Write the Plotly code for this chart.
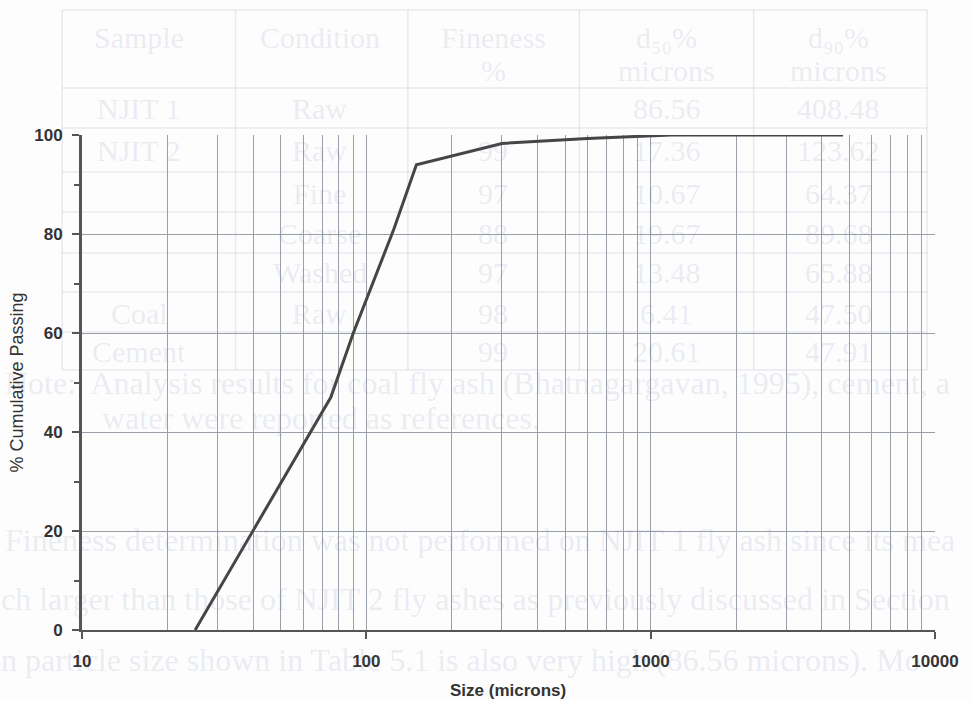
import plotly.graph_objects as go

# ---- data ----
size_microns = [25, 75, 90, 125, 150, 300, 600, 1180, 2360, 4750]
cum_passing = [0, 47, 60, 81, 94, 98.3, 99.3, 100, 100, 100]

y_ticks = [0, 20, 40, 60, 80, 100]
y_minor = [10, 30, 50, 70, 90]
x_ticks = [10, 100, 1000, 10000]
x_ticklabels = ["10", "100", "1000", "10000"]
x_minor = [m * d for d in (10, 100, 1000) for m in range(2, 10)]

# faint page bleed-through (table + paragraph text)
table_header = ["Sample", "Condition", "Fineness", "d\u2085\u2080%", "d\u2089\u2080%"]
table_header2 = ["", "", "%", "microns", "microns"]
table_rows = [
    ["NJIT 1", "Raw", "", "86.56", "408.48"],
    ["NJIT 2", "Raw", "99", "17.36", "123.62"],
    ["", "Fine", "97", "10.67", "64.37"],
    ["", "Coarse", "88", "19.67", "89.68"],
    ["", "Washed", "97", "13.48", "65.88"],
    ["Coal", "Raw", "98", "6.41", "47.50"],
    ["Cement", "", "99", "20.61", "47.91"],
]
paragraph = [
    ("Note:  Analysis results for coal fly ash (Bhatnagargavan, 1995), cement, a", 2, 383),
    ("water were reported as references.", 100, 418),
    ("Fineness determination was not performed on NJIT 1 fly ash since its mea", 2, 540),
    ("ch larger than those of NJIT 2 fly ashes as previously discussed in Section", -2, 599),
    ("n particle size shown in Table 5.1 is also very high (86.56 microns). Mo", -2, 660),
]

# screen geometry
OFF = 8                      # default body margin of the page
W, H = 971, 701
PL, PR, PT, PB = 82, 943, 135, 630  # plot area in screen pixels
PW, PH = PR - PL, PB - PT


def px(xp):
    return (xp - PL) / PW


def py(yp):
    return (PB - yp) / PH


faint = "rgba(110,120,155,0.14)"
faint_line = "rgba(110,120,155,0.14)"
serif = "Liberation Serif, Times New Roman, serif"

fig = go.Figure()
fig.add_trace(go.Scatter(
    x=size_microns, y=cum_passing, mode="lines",
    line=dict(color="#454545", width=3), hoverinfo="x+y", showlegend=False,
))

annotations = []
shapes = []


def faint_text(t, x, y, size, xanchor="center"):
    annotations.append(dict(text=t, x=px(x), y=py(y), xref="paper", yref="paper",
                            xanchor=xanchor, yanchor="middle", showarrow=False,
                            font=dict(family=serif, size=size, color=faint)))


col_x = [140, 322, 497, 672, 846]
row_y_header = [37, 70]
row_y = [108, 150, 193, 234, 272, 313, 351]
for i, t in enumerate(table_header):
    faint_text(t, col_x[i], row_y_header[0], 30)
for i, t in enumerate(table_header2):
    if t:
        faint_text(t, col_x[i], row_y_header[1], 30)
for r, row in enumerate(table_rows):
    for i, t in enumerate(row):
        if t:
            faint_text(t, col_x[i], row_y[r], 30)
for txt, xs, ys in paragraph:
    faint_text(txt, xs, ys, 32, xanchor="left")

# table rules
for yy in [10, 88, 128, 172, 212, 253, 292, 332, 370]:
    shapes.append(dict(type="line", xref="paper", yref="paper", x0=px(62), x1=px(935), y0=py(yy), y1=py(yy),
                       line=dict(color=faint_line, width=1.5), layer="below"))
for xx in [62, 237, 411, 584, 760, 935]:
    shapes.append(dict(type="line", xref="paper", yref="paper", x0=px(xx), x1=px(xx), y0=py(10), y1=py(370),
                       line=dict(color=faint_line, width=1.5), layer="below"))

# axis titles
annotations.append(dict(text="% Cumulative Passing", x=px(16), y=py(383), xref="paper", yref="paper",
                        xanchor="center", yanchor="middle", showarrow=False, textangle=-90,
                        font=dict(family="Liberation Sans, Arial, sans-serif", size=18, color="#333333")))
annotations.append(dict(text="<b>Size (microns)</b>", x=px(512), y=py(690), xref="paper", yref="paper",
                        xanchor="center", yanchor="middle", showarrow=False,
                        font=dict(family="Liberation Sans, Arial, sans-serif", size=17, color="#333333")))

grid = "#9aa0aa"
tickfont = dict(family="Liberation Sans, Arial, sans-serif", size=17, color="#333333", weight="bold")

# initial size fits inside the page margins (no scrollbars); the post script then
# removes the page margin and grows the figure to the full window, same plot area.
fig.update_layout(
    width=W - 2 * OFF, height=H - 2 * OFF,
    margin=dict(l=PL - OFF, r=(W - OFF) - PR, t=PT - OFF, b=(H - OFF) - PB, pad=0),
    paper_bgcolor="#fdfdfe",
    plot_bgcolor="rgba(0,0,0,0)",
    annotations=annotations,
    shapes=shapes,
    xaxis=dict(
        type="log", range=[1, 4], tickvals=x_ticks, ticktext=x_ticklabels,
        showgrid=True, gridcolor=grid, gridwidth=1,
        showline=True, linecolor="#555555", linewidth=2,
        ticks="outside", ticklen=7, tickwidth=2, tickcolor="#555555",
        tickfont=tickfont, zeroline=False, ticklabelstandoff=8,
        minor=dict(tickvals=x_minor, showgrid=True, gridcolor=grid, gridwidth=1, ticks=""),
    ),
    yaxis=dict(
        range=[0, 100], tickvals=y_ticks,
        showgrid=True, gridcolor=grid, gridwidth=1,
        showline=True, linecolor="#555555", linewidth=3,
        ticks="outside", ticklen=7, tickwidth=2, tickcolor="#555555",
        tickfont=tickfont, zeroline=False, ticklabelstandoff=6,
        minor=dict(tickvals=y_minor, ticks="outside", ticklen=5, tickwidth=2, tickcolor="#555555", showgrid=False),
    ),
)

post = (
    "document.documentElement.style.overflow='hidden';"
    "document.documentElement.style.margin='0px';"
    "document.body.style.margin='0px';"
    "document.body.style.padding='0px';"
    "document.body.style.overflow='hidden';"
    "var gd=document.getElementById('{plot_id}');"
    "gd.style.width='%dpx';gd.style.height='%dpx';"
    "Plotly.relayout(gd,{width:%d,height:%d,'margin.l':%d,'margin.r':%d,'margin.t':%d,'margin.b':%d});"
    % (W, H, W, H, PL, W - PR, PT, H - PB)
)

fig.write_html("out.html", config={"displayModeBar": False}, post_script=post)
